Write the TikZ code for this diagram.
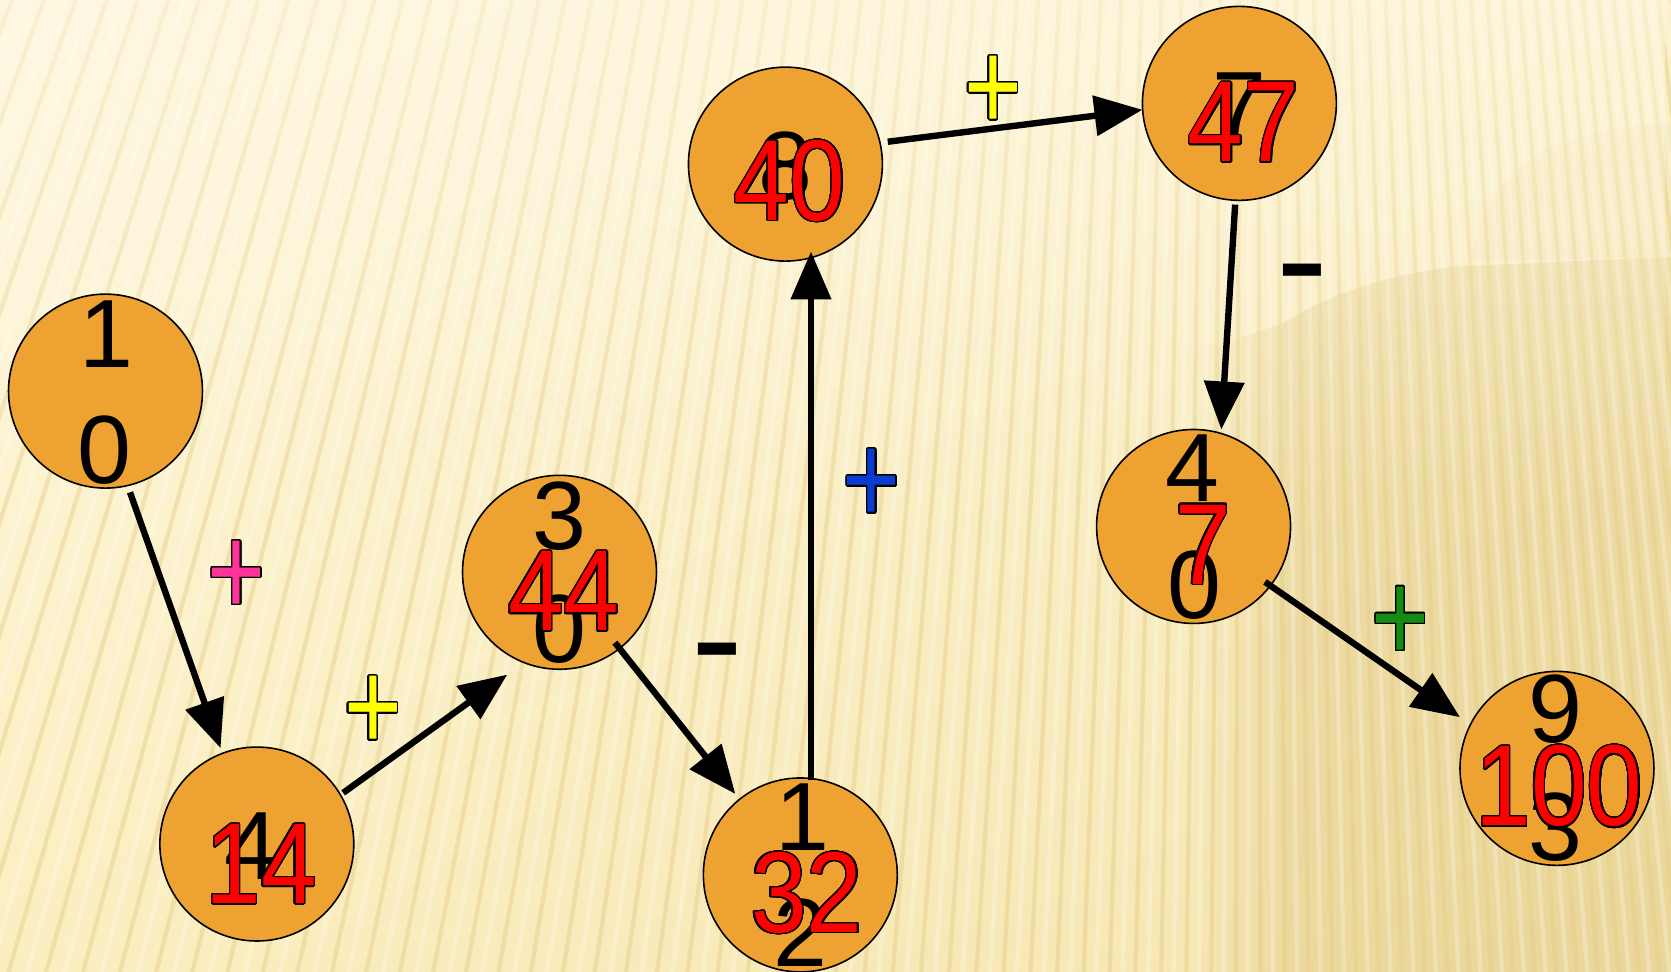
\documentclass[tikz,border=0pt]{standalone}
\usepackage{fontspec}
\setmainfont{Liberation Sans}
\usepackage{graphicx}
\usepackage{contour}
\contourlength{1.3pt}
\contournumber{32}
\usetikzlibrary{arrows.meta,calc,fadings,shadings}
\definecolor{ballc}{RGB}{238,162,50}
\definecolor{pinkp}{RGB}{255,51,153}
\definecolor{yelp}{RGB}{255,255,0}
\definecolor{bluep}{RGB}{10,60,210}
\definecolor{greenp}{RGB}{20,140,20}
\definecolor{bgA}{RGB}{254,248,226}
\definecolor{bgB}{RGB}{251,240,200}
\definecolor{bgC}{RGB}{251,238,192}
\definecolor{bgD}{RGB}{244,228,175}
\definecolor{tanc}{RGB}{222,196,125}
\definecolor{stripec}{RGB}{230,205,135}
\newcommand\blk[1]{\fontsize{91}{100}\selectfont #1}
\newcommand\rd[1]{\fontsize{108}{120}\selectfont\color{red}\contour{black}{\scalebox{0.87}[1]{#1}}}
\newcommand\pls[1]{\fontsize{93}{100}\selectfont\color{#1}\contour{black}{\scalebox{1}[1.3]{+}}}
\newcommand\mns{\fontsize{146}{150}\selectfont -}
\tikzfading[name=topfade, top color=transparent!40, bottom color=transparent!100]
\tikzfading[name=leftfade, left color=transparent!100, right color=transparent!0]
\tikzset{
  ball/.style={circle, fill=ballc, draw=black, line width=1.5pt, minimum size=182pt, inner sep=0pt},
  lbl/.style={anchor=base, inner sep=0pt, outer sep=0pt},
  arr/.style={line width=6pt, -{Triangle[length=45pt,width=37pt]}}
}
\begin{document}
\begin{tikzpicture}[x=1pt,y=-1pt]
\useasboundingbox (0,0) rectangle (1568,912);
% background
\begin{scope}
\clip (0,0) rectangle (1568,912);
\shade[upper left=bgA, upper right=bgB, lower left=bgC, lower right=bgD] (0,0) rectangle (1568,912);
\fill[tanc, opacity=0.4] (1204,303) .. controls (1250,275) and (1300,258) .. (1367,250) -- (1568,241) -- (1568,912) -- (1204,912) -- cycle;
\fill[tanc, opacity=0.35, path fading=leftfade] (1120,912) -- (1120,330) -- (1204,303) -- (1204,912) -- cycle;
\fill[tanc, opacity=0.12] (1380,245) .. controls (1400,150) and (1450,125) .. (1568,115) -- (1568,241) -- cycle;
\foreach \i in {0,...,95} {
  \pgfmathsetmacro\xa{3000-3200*exp(-0.01067*\i)}
  \pgfmathsetmacro\xtop{\xa+(1174-\xa)*0.08993}
  \pgfmathsetmacro\xbot{\xa-(1174-\xa)*0.18277}
  \draw[stripec, opacity=0.45, line width=4pt] (\xbot,930) -- (\xtop,-10);
  \pgfmathsetmacro\xb{3000-3200*exp(-0.01067*(\i+0.5))}
  \pgfmathsetmacro\xtopb{\xb+(1174-\xb)*0.08993}
  \pgfmathsetmacro\xbotb{\xb-(1174-\xb)*0.18277}
  \draw[white, opacity=0.25, line width=4pt] (\xbotb,930) -- (\xtopb,-10);
}
\fill[bgA, path fading=topfade] (0,0) rectangle (1568,480);
\end{scope}
% circles
\node[ball] (n1) at (99,367) {};
\node[ball] (n2) at (241,792) {};
\node[ball] (n3) at (525,537) {};
\node[ball] (n4) at (737,154) {};
\node[ball] (n5) at (1163,97) {};
\node[ball] (n6) at (1120,494) {};
\node[ball] (n7) at (751,821) {};
\node[ball] (n8) at (1461,721) {};
% black numbers
\node[lbl] (b1a) at (100,345) {\blk{1}};
\node[lbl] (b1b) at (98,454) {\blk{0}};
\node[lbl] (b2a) at (236,825) {\blk{4}};
\node[lbl] (b3a) at (525,516) {\blk{3}};
\node[lbl] (b3b) at (525,622) {\blk{0}};
\node[lbl] (b4a) at (737,187) {\blk{8}};
\node[lbl] (b5a) at (1163,131) {\blk{7}};
\node[lbl] (b6a) at (1119,471) {\blk{4}};
\node[lbl] (b6b) at (1121,580) {\blk{0}};
\node[lbl] (b7a) at (753,798) {\blk{1}};
\node[lbl] (b7b) at (751,907) {\blk{2}};
\node[lbl] (b8a) at (1460,697) {\blk{9}};
\node[lbl] (b8b) at (1460,807) {\blk{3}};
% red numbers
\node[lbl] (r2) at (245,848) {\rd{14}};
\node[lbl] (r3) at (529,592) {\rd{44}};
\node[lbl] (r4) at (741,207) {\rd{40}};
\node[lbl] (r5) at (1167,152) {\rd{47}};
\node[lbl] (r6) at (1129,548) {\rd{7}};
\node[lbl] (r7) at (757,875) {\rd{32}};
\node[lbl] (r8) at (1463,775) {\rd{100}};
% arrows
\draw[arr] ($(n1)+(23,95)$) -- ($(n2)+(-34,-90)$);
\draw[arr] ($(n2)+(81,-48)$) -- ($(n3)+(-49,96)$);
\draw[arr] ($(n3)+(52,66)$) -- ($(n7)+(-61,-76)$);
\draw[arr] ($(n7)+(10,-89)$) -- ($(n4)+(24,82)$);
\draw[arr] ($(n4)+(96,-21)$) -- ($(n5)+(-91,6)$);
\draw[arr] ($(n5)+(-4,95)$) -- ($(n6)+(26,-91)$);
\draw[arr] ($(n6)+(67,52)$) -- ($(n8)+(-91,-48)$);
% signs
\node[lbl] (s1) at (222,577.6) {\pls{pinkp}};
\node[lbl] (s2) at (350,704.6) {\pls{yelp}};
\node[lbl] (s3) at (673,648) {\mns};
\node[lbl] (s4) at (818,491.6) {\pls{bluep}};
\node[lbl] (s5) at (932,122.6) {\pls{yelp}};
\node[lbl] (s6) at (1222,292) {\mns};
\node[lbl] (s7) at (1314,620.6) {\pls{greenp}};
\end{tikzpicture}
\end{document}
